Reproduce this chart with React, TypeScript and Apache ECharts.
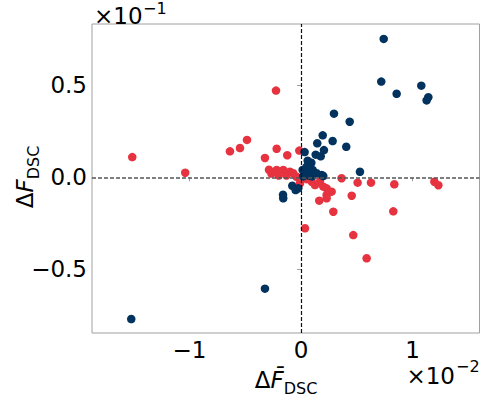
import React, { useEffect, useRef } from "react";
import * as echarts from "echarts";

const xTicks = [-1, 0, 1];
const yTicks = [-0.5, 0, 0.5];

// x in units of 1e-2, y in units of 1e-1
const redX = [-1.513, -1.038, -0.637, -0.547, -0.484, -0.224, -0.323, -0.218, -0.287, -0.218, -0.265, -0.159, -0.123, -0.099, -0.069, -0.039, -0.015, -0.009, 0.096, 0.126, 0.17, 0.2, 0.23, 0.275, 0.23, 0.23, 0.164, 0.29, 0.364, 0.455, 0.508, 0.628, 0.837, 1.196, 1.232, 0.828, 0.036, 0.469, 0.589, -0.2, -0.13, 0.05];
const redY = [0.11, 0.025, 0.141, 0.159, 0.203, 0.471, 0.105, 0.155, 0.041, 0.04, 0.02, 0.04, 0.12, 0.03, 0.022, 0.003, 0.145, -0.033, -0.024, -0.042, -0.024, -0.051, -0.06, -0.078, -0.096, -0.114, -0.127, -0.187, -0.005, -0.1, -0.029, -0.029, -0.038, -0.024, -0.043, -0.185, -0.277, -0.314, -0.44, 0.01, 0.01, -0.01];

const blueX = [0.742, 0.72, 0.858, 1.079, 1.142, 1.127, 0.296, 0.437, 0.195, 0.146, 0.284, 0.406, 0.206, 0.132, 0.177, 0.033, 0.529, 0.093, 0.051, 0.015, 0.105, 0.045, 0.186, 0.141, 0.07, 0.02, 0.1, 0.06, -0.078, -0.048, -0.161, -0.159, -0.024, 0.2, -0.323, -1.522];
const blueY = [0.752, 0.52, 0.454, 0.498, 0.435, 0.418, 0.346, 0.302, 0.228, 0.185, 0.197, 0.166, 0.148, 0.123, 0.114, 0.137, 0.03, 0.079, 0.058, 0.04, 0.04, 0.022, 0.013, 0.022, 0.01, 0.005, 0.005, 0.09, -0.046, -0.069, -0.095, -0.114, -0.06, 0.007, -0.605, -0.77];

const FONT = "DejaVu Sans";
const RED = "#e6333f";
const BLUE = "#02335f";
const TICK_FS = 23;
const LABEL_FS = 23;

const minus = (s: string) => s.replace("-", "\u2212");

export default function App() {
  const ref = useRef<HTMLDivElement>(null);
  useEffect(() => {
    if (!ref.current) return;
    const chart = echarts.init(ref.current, null, { renderer: "svg" });
    const red = redX.map((x, i) => [x, redY[i]]);
    const blue = blueX.map((x, i) => [x, blueY[i]]);
    const mainStyle = { fontSize: 23, fontFamily: FONT, fill: "#000", lineHeight: 22, verticalAlign: "middle" };
    const supStyle = { fontSize: 16, fontFamily: FONT, fill: "#000", lineHeight: 16, verticalAlign: "middle" };
    const labelRich = {
      m: { fontSize: LABEL_FS, fontFamily: FONT, fill: "#000", lineHeight: 26 },
      i: { fontSize: LABEL_FS, fontFamily: FONT, fontStyle: "italic", fill: "#000", lineHeight: 26 },
      s: { fontSize: 16, fontFamily: FONT, fill: "#000", verticalAlign: "bottom", lineHeight: 16, padding: [0, 0, -3, 0] },
    };
    chart.setOption({
      animation: false,
      grid: {
        left: 92,
        right: 4.5,
        top: 24,
        bottom: 63,
        show: true,
        borderColor: "#a0a0a0",
        borderWidth: 1,
        backgroundColor: "transparent",
        containLabel: false,
        outerBoundsMode: "none",
      },
      xAxis: {
        type: "value",
        min: -1.874,
        max: 1.601,
        splitLine: { show: false },
        axisLine: { show: false },
        axisTick: {
          show: true,
          customValues: xTicks,
          length: 4,
          lineStyle: { color: "#a0a0a0" },
        },
        axisLabel: {
          customValues: xTicks,
          formatter: (v: number) => minus(String(Math.round(v))),
          fontSize: TICK_FS,
          fontFamily: FONT,
          color: "#000",
          lineHeight: 17,
          margin: 8,
        },
      },
      yAxis: {
        type: "value",
        min: -0.846,
        max: 0.833,
        splitLine: { show: false },
        axisLine: { show: false },
        axisTick: {
          show: true,
          customValues: yTicks,
          length: 4,
          lineStyle: { color: "#a0a0a0" },
        },
        axisLabel: {
          customValues: yTicks,
          formatter: (v: number) => minus((Math.abs(v) < 1e-9 ? 0 : v).toFixed(1)),
          fontSize: TICK_FS,
          fontFamily: FONT,
          color: "#000",
          margin: 5,
        },
      },
      graphic: [
        { type: "text", x: 94, y: 16, style: { ...mainStyle, text: "\u00d710", align: "left" } },
        { type: "text", x: 143, y: 8.5, style: { ...supStyle, text: "\u22121", align: "left" } },
        { type: "text", x: 455, y: 376, style: { ...mainStyle, text: "\u00d710", align: "right" } },
        { type: "text", x: 456, y: 366.5, style: { ...supStyle, text: "\u22122", align: "left" } },
        {
          type: "text",
          x: 286,
          y: 380,
          style: {
            text: "{m|\u0394}{i|F\u0304}{s|DSC}",
            align: "center",
            verticalAlign: "middle",
            rich: labelRich,
          },
        },
        {
          type: "text",
          x: 25,
          y: 177,
          rotation: Math.PI / 2,
          style: {
            text: "{m|\u0394}{i|F}{s|DSC}",
            align: "center",
            verticalAlign: "middle",
            rich: labelRich,
          },
        },
      ],
      series: [
        {
          type: "scatter",
          data: [],
          silent: true,
          markLine: {
            silent: true,
            symbol: "none",
            label: { show: false },
            data: [
              { xAxis: 0, lineStyle: { color: "#111", type: [4, 2], width: 1.2 } },
              { yAxis: 0, lineStyle: { color: "#555", type: [4, 2], width: 1.6 } },
            ],
          },
        },
        {
          type: "scatter",
          data: red,
          symbolSize: 8.5,
          itemStyle: { color: RED, opacity: 1 },
        },
        {
          type: "scatter",
          data: blue,
          symbolSize: 8.5,
          itemStyle: { color: BLUE, opacity: 1 },
        },
      ],
    });
    return () => chart.dispose();
  }, []);
  return (
    <div
      ref={ref}
      style={{ position: "fixed", left: 0, top: 0, width: 484, height: 396, background: "#fff" }}
    />
  );
}
